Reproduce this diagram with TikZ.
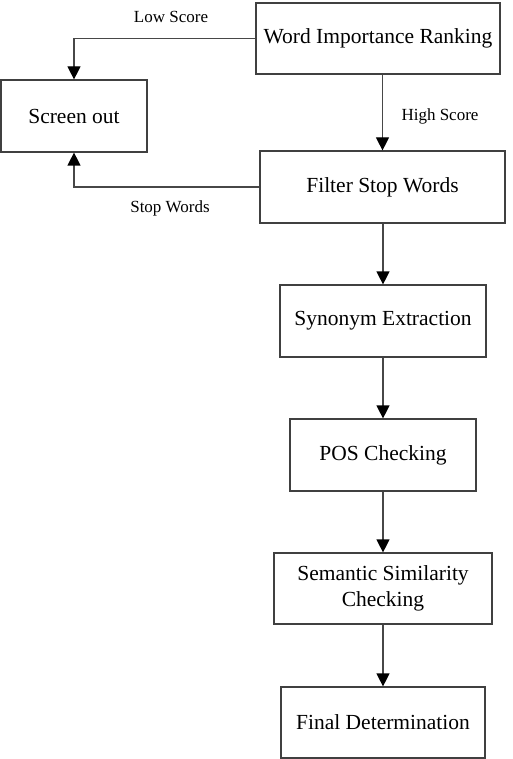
\documentclass[tikz,border=0pt]{standalone}
\usepackage{fontspec}
\setmainfont{Liberation Serif}
\usetikzlibrary{arrows.meta, positioning}
\tikzset{
	stage/.style={
		draw=black!75,
		line width=1.2pt,
		rectangle,
		align=center,
		inner sep=0pt,
		font=\fontsize{21.5}{25.8}\selectfont
	},
	tag/.style={
		font=\fontsize{17}{20}\selectfont,
		inner sep=0pt
	}
}

\begin{document}
\begin{tikzpicture}[x=1pt, y=-1pt]
	\tikzset{edge/.style={-{Triangle[width=13pt,length=13pt,black]}, draw=black!72, line width=1.2pt}}
	\useasboundingbox (0,0) rectangle (512,759);
	
	\node(rank) at (378,38.5) [stage, minimum width=244pt, minimum height=71pt] {Word Importance Ranking};
	\node(screen) at (74,116) [stage, minimum width=146pt, minimum height=72pt] {Screen out};
	\node(stop) at (382.5,187) [stage, minimum width=245pt, minimum height=72pt] {Filter Stop Words};
	\node(syn) at (383,321) [stage, minimum width=206pt, minimum height=72pt] {Synonym Extraction};
	\node(pos) at (383,455) [stage, minimum width=186pt, minimum height=72pt] {POS Checking};
	\node(sem) at (383,588.5) [stage, minimum width=218pt, minimum height=71pt] {Semantic Similarity\\Checking};
	\node(final) at (383,722.5) [stage, minimum width=204pt, minimum height=71pt] {Final Determination};
	
	\node(low) at (171,17) [tag] {Low Score};
	\node(high) at (440,116) [tag] {High Score};
	\node(stopw) at (170,208) [tag] {Stop Words};
	
	\draw[edge] (rank.south -| stop.north) -- (stop.north);
	\draw[edge] (rank.west) -| (screen.north);
	\draw[edge] (stop.west) -| (screen.south);
	
	\draw[edge] (stop.south -| syn.north) -- (syn.north);
	\draw[edge] (syn) -- (pos);
	\draw[edge] (pos) -- (sem);
	\draw[edge] (sem) -- (final);
	
\end{tikzpicture}
\end{document}
